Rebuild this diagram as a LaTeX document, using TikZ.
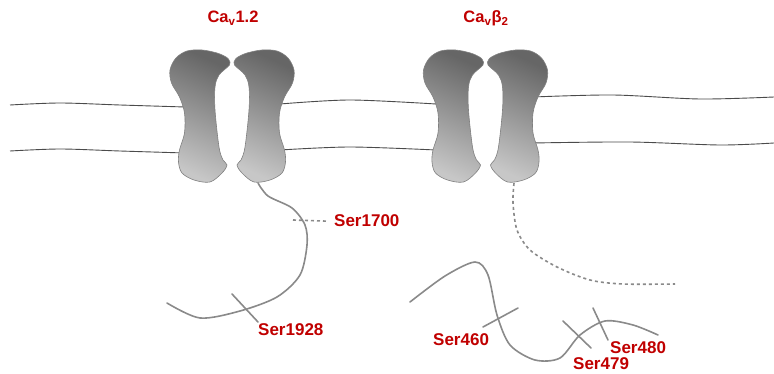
\documentclass[tikz,border=0pt]{standalone}
\usepackage{fontspec}
\setsansfont{Liberation Sans}
\usetikzlibrary{
  calc,      % Calculations $...$
  shadings   % Axis shading of the subunits
}
\definecolor{sitered}{RGB}{192,0,0}
\definecolor{chain}{RGB}{138,138,138}
\definecolor{lipid}{RGB}{75,75,75}
\def\chanA{232}
\def\chanB{485.5}
\newcommand{\sub}[1]{\textsubscript{#1}}
\tikzset{
  font=\sffamily\bfseries,
  semithick,
  site/.style={
    text=sitered,
    inner sep=0pt,
    font=\sffamily\bfseries\fontsize{17}{20}\selectfont
  },
  title/.style={
    site,
    font=\sffamily\bfseries\fontsize{16.5}{20}\selectfont
  },
  lipid line/.style={
    draw=lipid,
    line width=0.9pt
  },
  chain line/.style={
    draw=chain,
    line width=1.6pt,
    line cap=round
  },
  chain dash/.style={
    chain line,
    line cap=butt,
    dash pattern=on 3pt off 3pt
  },
  subunit fill/.style={
    draw=black!50,
    line width=0.6pt,
    top color=black!60,
    bottom color=black!22,
    shading angle=-25
  },
  subunit/.pic={
    \path[subunit fill] plot[smooth cycle,tension=0.55] coordinates {
      (-3,60) (-2.5,65) (-13,75) (-17,87) (-17,110) (-13,147) (-9,160)
      (-5,165) (-10,173) (-22,182) (-38,180) (-50,173) (-53.5,162)
      (-52.5,150) (-47.5,133) (-47.5,113) (-52.5,97) (-60.5,83)
      (-62,70) (-56,58) (-45,51) (-30,50) (-15,53) (-6,57)};
  }
}

\begin{document}
\begin{tikzpicture}[x=1pt,y=-1pt]
\useasboundingbox (0,0) rectangle (774,374);
% membrane
\draw[lipid line] plot[smooth] coordinates {(10,105) (60,103) (120,105) (185,107)};
\draw[lipid line] plot[smooth] coordinates {(10,151) (60,149) (120,151) (185,153)};
\draw[lipid line] plot[smooth] coordinates {(280,104) (350,100) (436,104)};
\draw[lipid line] plot[smooth] coordinates {(280,150) (350,147) (436,150)};
\draw[lipid line] plot[smooth] coordinates {(533,97) (613,95) (700,99) (774,97)};
\draw[lipid line] plot[smooth] coordinates {(533,143) (630,142) (720,145) (774,143)};
% channels
\pic at (\chanA,0) {subunit};
\pic[xscale=-1] at (\chanA,0) {subunit};
\pic at (\chanB,0) {subunit};
\pic[xscale=-1] at (\chanB,0) {subunit};
\node[title,anchor=base] (cav12) at (233,23) {Ca\sub{v}1.2};
\node[title,anchor=base] (cavb2) at (486,23) {Ca\sub{v}β\sub{2}};
% C-terminal tails
\draw[chain line] plot[smooth] coordinates {(258,183) (268,196) (292,208)
  (305,225) (307,245) (300,275) (277,297) (240,311) (200,318) (167,303)};
\draw[chain dash] plot[smooth] coordinates {(514,183) (513,203) (517,230)
  (530,250) (557,267) (590,280) (623,284) (675,284)};
\draw[chain line] plot[smooth] coordinates {(410,302) (445,276) (475,262)
  (488,275) (497,315) (510,345) (535,360) (560,358) (580,335) (605,321)
  (633,325) (658,335)};
% sites
\node[site,anchor=base west] (s1700) at (334,227) {Ser1700};
\node[site,anchor=base west] (s1928) at (258,335) {Ser1928};
\node[site,anchor=base west] (s460)  at (433,345) {Ser460};
\node[site,anchor=base west] (s479)  at (573,369) {Ser479};
\node[site,anchor=base west] (s480)  at (610,353) {Ser480};
\coordinate (t1700) at (293,220);
\draw[chain dash] (t1700) -- ($(s1700.west)+(-7,0)$);
\coordinate (a1928) at (232,294);
\coordinate (b1928) at (258,322);
\draw[chain line] (a1928) -- (b1928);
\coordinate (a460) at (483,327);
\coordinate (b460) at (518,308);
\draw[chain line] (a460) -- (b460);
\coordinate (a479) at (563,321);
\coordinate (b479) at (591,348);
\draw[chain line] (a479) -- (b479);
\coordinate (a480) at (593,308);
\coordinate (b480) at (608,340);
\draw[chain line] (a480) -- (b480);
\end{tikzpicture}
\end{document}
